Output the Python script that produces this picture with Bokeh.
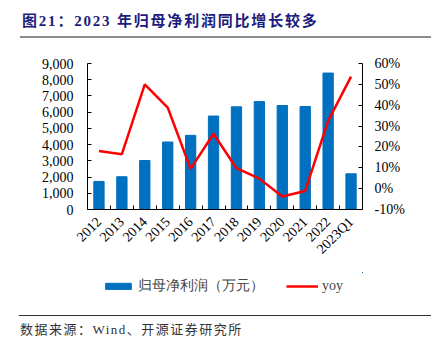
import math
from bokeh.plotting import figure
from bokeh.models import (Range1d, LinearAxis, FixedTicker, NumeralTickFormatter,
                          Legend, LegendItem, Div, ColumnDataSource)
from bokeh.layouts import column
from bokeh.embed import file_html
from bokeh.resources import INLINE

categories = ["2012", "2013", "2014", "2015", "2016", "2017", "2018", "2019",
              "2020", "2021", "2022", "2023Q1"]
profit = [1730, 2020, 3020, 4160, 4570, 5760, 6330, 6650, 6410, 6350, 8410, 2200]
yoy = [0.181, 0.165, 0.50, 0.389, 0.095, 0.263, 0.098, 0.048, -0.038, -0.011, 0.325, 0.537]
left_ticks = [0, 1000, 2000, 3000, 4000, 5000, 6000, 7000, 8000, 9000]
right_ticks = [-0.1, 0.0, 0.1, 0.2, 0.3, 0.4, 0.5, 0.6]

title_text = "图21：2023 年归母净利润同比增长较多"
bar_label = "归母净利润（万元）"
line_label = "yoy"
source_text = "数据来源：Wind、开源证券研究所"

n = len(categories)
xc = [i + 0.5 for i in range(n)]
src = ColumnDataSource(dict(x=xc, profit=profit, yoy=yoy))

SERIF = "Liberation Serif"
CJK = "Noto Sans CJK SC"
BLUE = "#0070C0"
RED = "#FF0000"

p = figure(width=441, height=226, output_backend="svg", toolbar_location=None,
           x_range=Range1d(0, n), y_range=Range1d(0, 9000),
           min_border_left=87, min_border_right=79, min_border_top=17,
           min_border_bottom=63)
p.extra_y_ranges = {"yoy": Range1d(-0.1, 0.6)}
p.outline_line_color = None
p.grid.visible = False
p.background_fill_color = "white"
p.border_fill_color = "white"

bars = p.vbar(x="x", top="profit", width=0.45, source=src, color=BLUE)
line = p.line(x="x", y="yoy", source=src, y_range_name="yoy", color=RED,
              line_width=2.5)

# x axis: labels at centers, ticks at category boundaries
xa = p.xaxis[0]
xa.ticker = FixedTicker(ticks=xc, minor_ticks=list(range(n + 1)))
xa.major_label_overrides = {v: c for v, c in zip(xc, categories)}
xa.major_tick_line_color = None
xa.minor_tick_in = 4
xa.minor_tick_out = 0
xa.minor_tick_line_color = "black"
xa.axis_line_color = "black"
xa.major_label_orientation = math.pi / 4
xa.major_label_text_font = SERIF
xa.major_label_text_font_size = "14px"
xa.major_label_text_color = "black"
xa.major_label_standoff = 4

ya = p.yaxis[0]
ya.ticker = FixedTicker(ticks=left_ticks)
ya.formatter = NumeralTickFormatter(format="0,0")
ya.major_tick_in = 4
ya.major_tick_out = 0
ya.minor_tick_line_color = None
ya.axis_line_color = "black"
ya.major_label_text_font = SERIF
ya.major_label_text_font_size = "14px"
ya.major_label_text_color = "black"
ya.major_label_standoff = 14

ra = LinearAxis(y_range_name="yoy", ticker=FixedTicker(ticks=right_ticks),
                formatter=NumeralTickFormatter(format="0%"))
ra.major_tick_in = 4
ra.major_tick_out = 0
ra.minor_tick_line_color = None
ra.axis_line_color = "black"
ra.major_label_text_font = SERIF
ra.major_label_text_font_size = "14px"
ra.major_label_text_color = "black"
ra.major_label_standoff = 12
p.add_layout(ra, "right")

# legend strip: same series styles, drawn out of view, legend in its frame
lg = figure(width=441, height=28, output_backend="svg", toolbar_location=None,
            x_range=Range1d(-100, -99), y_range=Range1d(-100, -99),
            x_axis_location=None, y_axis_location=None,
            min_border_left=0, min_border_right=0, min_border_top=0,
            min_border_bottom=0)
lg.grid.visible = False
lg.outline_line_color = None
lbars = lg.vbar(x="x", top="profit", width=0.45, source=src, color=BLUE)
lline = lg.line(x="x", y="yoy", source=src, color=RED, line_width=2.5)
legend = Legend(items=[LegendItem(label=bar_label, renderers=[lbars]),
                       LegendItem(label=line_label, renderers=[lline])],
                orientation="horizontal", location=(15, 5),
                glyph_width=32, glyph_height=8, label_height=14,
                label_text_font=SERIF, label_text_font_size="14px",
                label_standoff=4, spacing=22, padding=2, margin=0,
                border_line_color=None, background_fill_alpha=0)
lg.add_layout(legend)

title_div = Div(
    text=(f'<div style="margin-left:20px;width:411px;height:38px;box-sizing:border-box;'
          f'border-bottom:2px solid #8c8c8c;padding-top:13px;padding-left:2px;'
          f'font-family:\'{SERIF}\',\'{CJK}\';font-weight:bold;font-size:15px;'
          f'letter-spacing:1.8px;color:#1c1c7c;line-height:17px;white-space:nowrap;">'
          f'{title_text}</div>'),
    width=441, height=46, margin=0)

source_div = Div(
    text=(f'<div style="margin-left:19px;margin-top:15px;width:412px;box-sizing:border-box;'
          f'border-top:1.5px solid #333;padding-top:6px;padding-left:1px;'
          f'font-family:\'{SERIF}\',\'{CJK}\';font-size:13px;letter-spacing:1.5px;'
          f'color:#333;line-height:16px;white-space:nowrap;">{source_text}</div>'),
    width=441, height=46, margin=0)

layout = column(title_div, p, lg, source_div, spacing=0)

open("out.html", "w").write(file_html(layout, INLINE))
